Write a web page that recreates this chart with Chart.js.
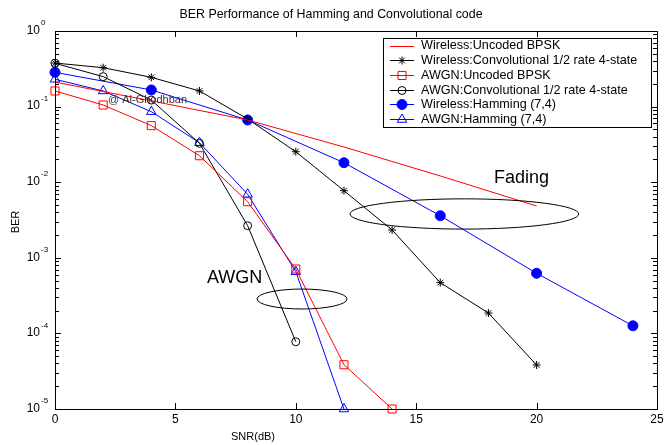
<!DOCTYPE html>
<html>
<head>
<meta charset="utf-8">
<script src="https://cdn.jsdelivr.net/npm/chart.js@4.4.1/dist/chart.umd.min.js"></script>
<style>
  html, body { margin: 0; padding: 0; background: #fff; }
  #wrap { width: 664px; height: 445px; }
</style>
</head>
<body>
<div id="wrap"><canvas id="berChart" width="664" height="445"></canvas></div>
<script>
// valores
const snrWirelessUncoded = [0, 4, 8, 12, 16, 20];
const berWirelessUncoded = [0.211, 0.119, 0.0665, 0.0292, 0.0121, 0.00484];

const snrWirelessConv = [0, 2, 4, 6, 8, 10, 12, 14, 16, 18, 20];
const berWirelessConv = [0.377, 0.327, 0.244, 0.161, 0.0686, 0.0253, 0.00772, 0.00233, 4.69e-4, 1.86e-4, 3.82e-5];

const snrAwgnUncoded = [0, 2, 4, 6, 8, 10, 12, 14];
const berAwgnUncoded = [0.161, 0.105, 0.056, 0.0224, 0.00552, 7.1e-4, 3.85e-5, 1e-5];

const snrAwgnConv = [0, 2, 4, 6, 8, 10];
const berAwgnConv = [0.374, 0.249, 0.122, 0.0327, 0.00266, 7.76e-5];

const snrWirelessHamming = [0, 4, 8, 12, 16, 20, 24];
const berWirelessHamming = [0.284, 0.166, 0.0665, 0.0181, 0.0036, 6.24e-4, 1.26e-4];

const snrAwgnHamming = [0, 2, 4, 6, 8, 10, 12];
const berAwgnHamming = [0.23, 0.161, 0.0857, 0.0333, 0.00692, 6.55e-4, 1e-5];

const xTicks = [0, 5, 10, 15, 20, 25];
const yExponents = [0, -1, -2, -3, -4, -5];

const seriesNames = [
    'Wireless:Uncoded BPSK',
    'Wireless:Convolutional 1/2 rate 4-state',
    'AWGN:Uncoded BPSK',
    'AWGN:Convolutional 1/2 rate 4-state',
    'Wireless:Hamming (7,4)',
    'AWGN:Hamming (7,4)'
];

const FONT = '"Liberation Sans", Arial, Helvetica, sans-serif';

const toPoints = (xs, ys) => xs.map((x, i) => ({ x: x, y: ys[i] }));

const makeSet = (label, xs, ys, color, style, radius, filled) => ({
    label: label,
    data: toPoints(xs, ys),
    borderColor: color,
    backgroundColor: filled ? color : 'rgba(0,0,0,0)',
    borderWidth: 1,
    pointStyle: style,
    pointRadius: radius,
    pointBorderWidth: 1,
    pointBorderColor: color,
    pointBackgroundColor: filled ? color : 'rgba(0,0,0,0)',
    tension: 0,
    clip: false
});

const datasets = [
    makeSet(seriesNames[0], snrWirelessUncoded, berWirelessUncoded, '#ff0000', 'circle', 0, false),
    makeSet(seriesNames[1], snrWirelessConv, berWirelessConv, '#000000', 'star', 4, false),
    makeSet(seriesNames[2], snrAwgnUncoded, berAwgnUncoded, '#ff0000', 'rect', 5.7, false),
    makeSet(seriesNames[3], snrAwgnConv, berAwgnConv, '#000000', 'circle', 4, false),
    makeSet(seriesNames[4], snrWirelessHamming, berWirelessHamming, '#0000ff', 'circle', 5, true),
    makeSet(seriesNames[5], snrAwgnHamming, berAwgnHamming, '#0000ff', 'triangle', 5.5, false)
];

// marco, marcas, textos, elipses y leyenda al estilo MATLAB
const matlabPlugin = {
    id: 'matlabDecor',
    afterDraw(chart) {
        const ctx = chart.ctx;
        const a = chart.chartArea;
        const xs = chart.scales.x;
        const ys = chart.scales.y;
        ctx.save();

        // caja
        ctx.strokeStyle = '#000';
        ctx.lineWidth = 1;
        ctx.strokeRect(Math.round(a.left) + 0.5, Math.round(a.top) + 0.5,
            Math.round(a.right - a.left), Math.round(a.bottom - a.top));

        // marcas del eje x (abajo y arriba)
        ctx.beginPath();
        xTicks.forEach(v => {
            const px = Math.round(xs.getPixelForValue(v)) + 0.5;
            ctx.moveTo(px, a.bottom); ctx.lineTo(px, a.bottom - 6);
            ctx.moveTo(px, a.top); ctx.lineTo(px, a.top + 6);
        });
        // marcas del eje y (mayores y menores, izquierda y derecha)
        yExponents.forEach(e => {
            for (let m = 1; m <= 9; m++) {
                const v = m * Math.pow(10, e);
                if (v > 1.0001 || v < 0.99e-5) continue;
                const py = Math.round(ys.getPixelForValue(v)) + 0.5;
                const len = m === 1 ? 6 : 4;
                ctx.moveTo(a.left, py); ctx.lineTo(a.left + len, py);
                ctx.moveTo(a.right, py); ctx.lineTo(a.right - len, py);
            }
        });
        ctx.stroke();

        // etiquetas del eje y con exponente
        ctx.fillStyle = '#000';
        ctx.textBaseline = 'middle';
        yExponents.forEach(e => {
            const py = ys.getPixelForValue(Math.pow(10, e));
            ctx.font = '12px ' + FONT;
            ctx.textAlign = 'right';
            ctx.fillText('10', a.left - 15, py - 0.5);
            ctx.font = '8px ' + FONT;
            ctx.textAlign = 'left';
            ctx.fillText(String(e), a.left - 14, py - 8);
        });

        // titulo y nombres de ejes
        ctx.font = '12.4px ' + FONT;
        ctx.textAlign = 'center';
        ctx.fillText('BER Performance of Hamming and Convolutional code', 331, 15);
        ctx.font = '11px ' + FONT;
        ctx.fillText('SNR(dB)', 253, 437);
        ctx.save();
        ctx.translate(16, 222);
        ctx.rotate(-Math.PI / 2);
        ctx.fillText('BER', 0, 0);
        ctx.restore();

        // anotaciones
        const ellipse = (cx, cy, dx, dLog) => {
            const px = xs.getPixelForValue(cx);
            const py = ys.getPixelForValue(cy);
            const rx = xs.getPixelForValue(cx + dx) - px;
            const ry = py - ys.getPixelForValue(cy * Math.pow(10, dLog));
            ctx.beginPath();
            ctx.ellipse(px, py, rx, ry, 0, 0, Math.PI * 2);
            ctx.stroke();
        };
        ctx.strokeStyle = '#000';
        ctx.lineWidth = 1;
        ellipse(17, 0.0038, 4.75, 0.2);
        ellipse(10.26, 2.85e-4, 1.87, 0.132);

        ctx.textAlign = 'left';
        ctx.font = '18px ' + FONT;
        ctx.fillText('Fading', xs.getPixelForValue(18.23), ys.getPixelForValue(0.01137));
        ctx.fillText('AWGN', xs.getPixelForValue(6.31), ys.getPixelForValue(5.4e-4));
        ctx.font = '11px ' + FONT;
        ctx.fillStyle = '#333';
        ctx.fillText('@ Al-Ghodhban', xs.getPixelForValue(2.2), ys.getPixelForValue(0.122));

        // leyenda
        const lx = a.right - 274, ly = 38, lw = 268, lh = 89;
        ctx.fillStyle = '#fff';
        ctx.fillRect(lx, ly, lw, lh);
        ctx.strokeStyle = '#000';
        ctx.lineWidth = 1;
        ctx.strokeRect(lx + 0.5, ly + 0.5, lw, lh);
        ctx.font = '12.6px ' + FONT;
        chart.data.datasets.forEach((ds, i) => {
            const y = ly + 7.5 + i * 14.7;
            ctx.strokeStyle = ds.borderColor;
            ctx.lineWidth = 1;
            ctx.beginPath();
            ctx.moveTo(lx + 7, Math.round(y) + 0.5);
            ctx.lineTo(lx + 31, Math.round(y) + 0.5);
            ctx.stroke();
            if (ds.pointRadius > 0) {
                ctx.fillStyle = ds.pointBackgroundColor;
                ctx.strokeStyle = ds.pointBorderColor;
                Chart.helpers.drawPoint(ctx, {
                    pointStyle: ds.pointStyle,
                    radius: ds.pointRadius,
                    rotation: 0,
                    borderWidth: 1
                }, lx + 19, Math.round(y) + 0.5);
            }
            ctx.fillStyle = '#000';
            ctx.textAlign = 'left';
            ctx.textBaseline = 'middle';
            ctx.fillText(ds.label, lx + 38, y + 0.5);
        });

        ctx.restore();
    }
};

const ctx = document.getElementById('berChart').getContext('2d');

const chartBer = new Chart(ctx, {
    type: 'line',
    data: { datasets: datasets },
    options: {
        responsive: false,
        animation: false,
        devicePixelRatio: 1,
        layout: { padding: { top: 31, right: 7, left: 0, bottom: 0 } },
        plugins: {
            legend: { display: false },
            tooltip: { enabled: false },
            title: { display: false }
        },
        scales: {
            x: {
                type: 'linear',
                min: 0,
                max: 25,
                ticks: {
                    stepSize: 5,
                    color: '#000',
                    font: { family: FONT, size: 12 },
                    padding: 3,
                    maxRotation: 0
                },
                grid: { display: false, drawTicks: false },
                border: { display: false },
                afterFit: (scale) => {
                    scale.height = 36;
                    scale.paddingLeft = 0;
                    scale.paddingRight = 0;
                }
            },
            y: {
                type: 'logarithmic',
                min: 1e-5,
                max: 1,
                ticks: { display: false },
                grid: { display: false, drawTicks: false },
                border: { display: false },
                afterFit: (scale) => { scale.width = 55; }
            }
        }
    },
    plugins: [matlabPlugin]
});
</script>
</body>
</html>
